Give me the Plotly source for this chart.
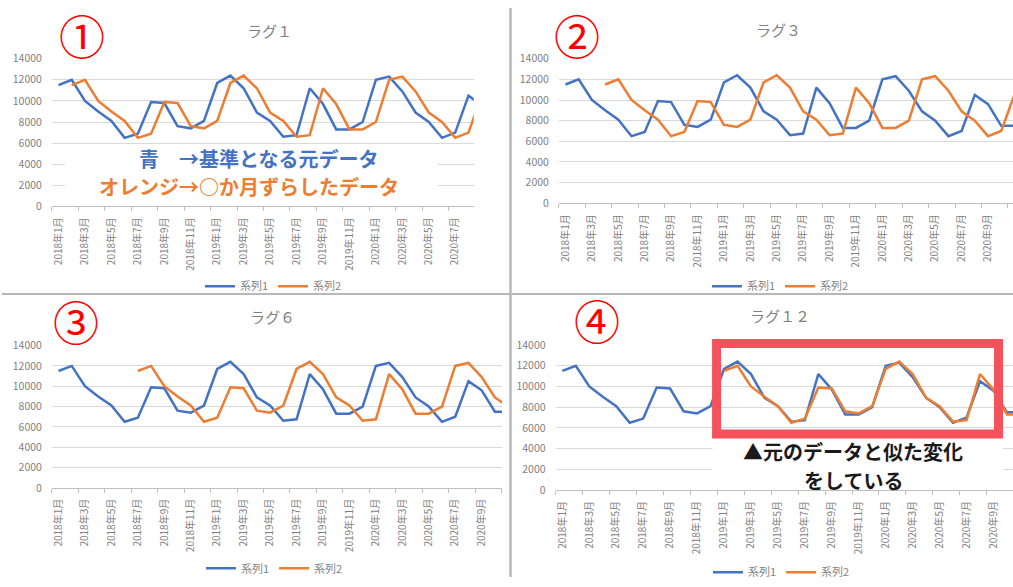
import plotly.graph_objects as go

W, H = 1013, 587

# Monthly values, 2018-01 .. 2020-11
months = [f"{y}年{m}月" for y in (2018, 2019, 2020) for m in range(1, 13)][:35]
base = [11500, 12000, 10000, 9000, 8100, 6500, 6900, 9900, 9800, 7600, 7400, 8100,
        11700, 12400, 11200, 8900, 8100, 6600, 6750, 11200, 9700, 7300, 7300, 8000,
        12000, 12300, 10900, 8900, 8000, 6500, 7000, 10500, 9600, 7500, 7500]

lags = [1, 3, 6, 12]
titles = ["ラグ１", "ラグ３", "ラグ６", "ラグ１２"]
marks = ["①", "②", "③", "④"]

BLUE = "#4472C4"
ORANGE = "#ED7D31"
GRAY_TXT = "#7f7f7f"
FONT = "Noto Sans CJK JP"

# panel layout in pixels: plot box (x0, x1, ytop, ybottom), category width
panels = [
    dict(x0=50, x1=472.7, yt=52.3, yb=204.7, cw=13.25,
         title=(268, 23), mark=(80, 27), legend=(272, 287)),
    dict(x0=558, x1=1013, yt=52.3, yb=201.5, cw=13.23,
         title=(778, 22), mark=(576, 27), legend=(780, 287)),
    dict(x0=50, x1=501, yt=348.3, yb=495, cw=13.25,
         title=(271, 318), mark=(74, 322), legend=(273, 578)),
    dict(x0=554.7, x1=1013, yt=347.7, yb=497.3, cw=13.5,
         title=(780, 317), mark=(596, 321), legend=(781, 582)),
]


def px(x):
    return x / W


def py(y):
    return 1 - y / H


fig = go.Figure()
idx = list(range(len(months)))
tickvals = idx[::2]
ticktext = months[::2]
boundaries = [i - 0.5 for i in range(0, len(months) + 2, 2)]

annotations = []
layout = {}
for k, (lag, p) in enumerate(zip(lags, panels)):
    n = k + 1
    sfx = "" if n == 1 else str(n)
    xa, ya = f"x{sfx}", f"y{sfx}"
    lg = "legend" if n == 1 else f"legend{n}"
    shifted = [None] * lag + base[:len(base) - lag]

    fig.add_trace(go.Scatter(x=idx, y=base, name="系列1", mode="lines",
                             line=dict(color=BLUE, width=2.5),
                             xaxis=xa, yaxis=ya, legend=lg))
    fig.add_trace(go.Scatter(x=idx, y=shifted, name="系列2", mode="lines",
                             line=dict(color=ORANGE, width=2.5),
                             xaxis=xa, yaxis=ya, legend=lg))

    xr = [-0.5, -0.5 + (p["x1"] - p["x0"]) / p["cw"]]
    layout[f"xaxis{sfx}"] = dict(
        domain=[px(p["x0"]), px(p["x1"])], anchor=ya, range=xr,
        tickmode="array", tickvals=tickvals, ticktext=ticktext,
        tickangle=-90, ticks="outside", ticklen=0, ticklabelstandoff=6,
        tickfont=dict(size=10, color=GRAY_TXT, family=FONT),
        showgrid=False, zeroline=False, showline=True,
        linecolor="#bfbfbf", linewidth=1,
        minor=dict(tickmode="array", tickvals=boundaries, ticks="outside",
                   ticklen=4, tickcolor="#bfbfbf", showgrid=False),
    )
    layout[f"yaxis{sfx}"] = dict(
        domain=[py(p["yb"]), py(p["yt"])], anchor=xa, range=[0, 14000],
        tickmode="linear", tick0=0, dtick=2000, tickformat="d",
        tickfont=dict(size=10.5, color=GRAY_TXT, family=FONT),
        showgrid=True, gridcolor="#d9d9d9", gridwidth=1,
        zeroline=False, showline=False, ticks="", ticklabelstandoff=9,
    )
    layout[lg] = dict(
        x=px(p["legend"][0]), y=py(p["legend"][1]),
        xanchor="center", yanchor="middle", orientation="h",
        bgcolor="rgba(0,0,0,0)", itemwidth=30,
        font=dict(size=11, color=GRAY_TXT, family=FONT),
    )
    annotations.append(dict(
        x=px(p["title"][0]), y=py(p["title"][1]), xref="paper", yref="paper",
        text=titles[k], showarrow=False, xanchor="center", yanchor="middle",
        font=dict(size=15, color="#808080", family=FONT),
    ))
    annotations.append(dict(
        x=px(p["mark"][0]), y=py(p["mark"][1]), xref="paper", yref="paper",
        text=marks[k], showarrow=False, xanchor="center", yanchor="middle",
        font=dict(size=46, color="#ff0000", family=FONT),
    ))

# explanatory notes
notes = [
    ("<b>青　→基準となる元データ</b>", 257, 155, BLUE),
    ("<b>オレンジ→○か月ずらしたデータ</b>", 247, 184, ORANGE),
    ("<b>▲元のデータと似た変化</b>", 853, 458, "#1a1a1a"),
    ("<b>をしている</b>", 853, 487, "#1a1a1a"),
]
for text, x, y, c in notes:
    annotations.append(dict(
        x=px(x), y=py(y), xref="paper", yref="paper", text=text,
        showarrow=False, xanchor="center", yanchor="middle",
        font=dict(size=20, color=c, family=FONT),
        borderpad=0,
    ))

shapes = [
    # white text boxes behind the notes
    dict(type="rect", xref="paper", yref="paper", x0=px(63), x1=px(437),
         y0=py(200), y1=py(145), fillcolor="white", line=dict(width=0),
         layer="above"),
    dict(type="rect", xref="paper", yref="paper", x0=px(712), x1=px(1003),
         y0=py(495), y1=py(446), fillcolor="white", line=dict(width=0),
         layer="above"),
    # highlight frame in the lag-12 panel
    dict(type="rect", xref="paper", yref="paper", x0=px(716), x1=px(998.5),
         y0=py(439.5), y1=py(346), line=dict(color="#F4515A", width=9),
         fillcolor="rgba(0,0,0,0)", layer="above"),
    # panel separators
    dict(type="line", xref="paper", yref="paper", x0=0, x1=1, y0=py(295),
         y1=py(295), line=dict(color="#b8b8b8", width=2)),
    dict(type="line", xref="paper", yref="paper", x0=px(509.5), x1=px(509.5),
         y0=0, y1=1, line=dict(color="#b8b8b8", width=2.5)),
]

fig.update_layout(
    width=W, height=H, margin=dict(l=0, r=0, t=0, b=0),
    paper_bgcolor="white", plot_bgcolor="white",
    font=dict(family=FONT, color=GRAY_TXT),
    annotations=annotations, shapes=shapes, **layout,
)

fig.write_html("out.html")
